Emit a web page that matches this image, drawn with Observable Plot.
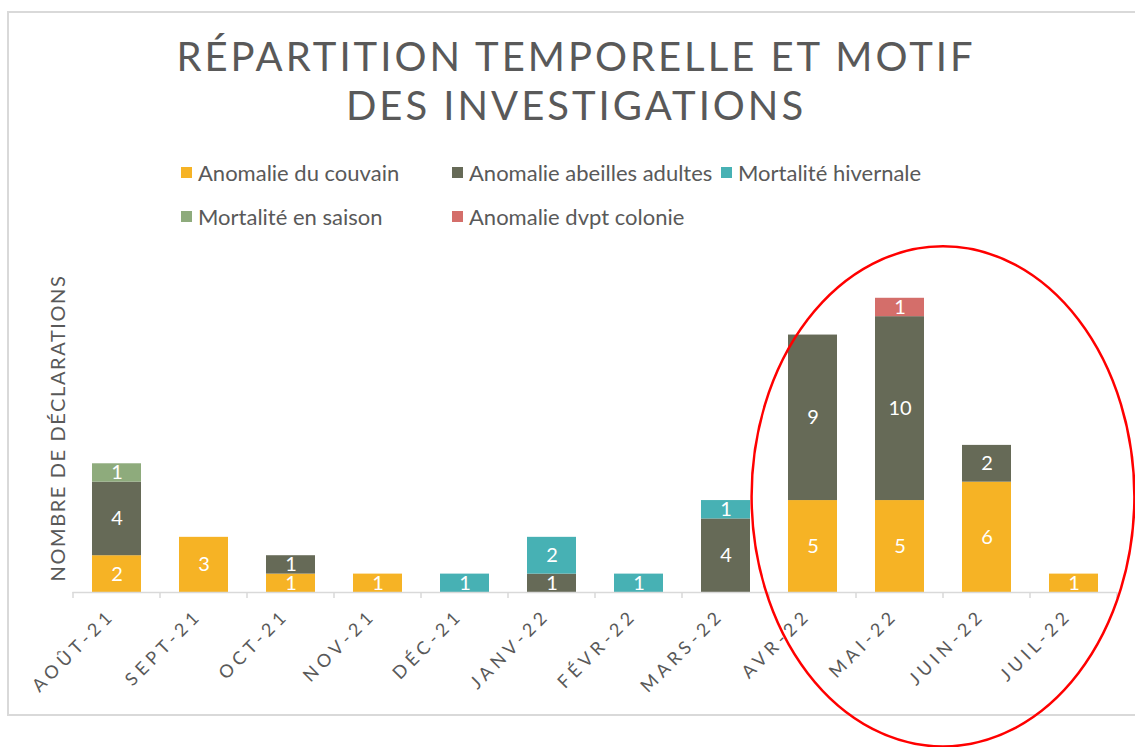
<!DOCTYPE html>
<html>
<head>
<meta charset="utf-8">
<script src="https://cdn.jsdelivr.net/npm/d3@7"></script>
<script src="https://cdn.jsdelivr.net/npm/@observablehq/plot@0.6"></script>
<style>
  body { margin:0; background:#fff; font-family: Lato, "Open Sans", sans-serif; }
  #wrap { position:relative; width:1135px; height:747px; overflow:hidden; background:#fff; }
  #frame { position:absolute; left:7px; top:11px; width:1160px; height:705px; border:2px solid #d9d9d9; box-sizing:border-box; }
  #chart { position:absolute; left:0; top:0; }
  #title { position:absolute; left:0; top:32px; width:1152px; text-align:center; color:#595959;
           font-size:40px; line-height:49px; letter-spacing:3px; white-space:nowrap; }
  .leg { position:absolute; display:flex; align-items:center; color:#595959; font-size:22px; white-space:nowrap; }
  .leg .sw { width:11px; height:11px; margin-right:6px; }
  #ylab { position:absolute; left:57px; top:428px; transform:translate(-50%,-50%) rotate(-90deg);
          color:#595959; font-size:20px; letter-spacing:1.6px; white-space:nowrap; }
</style>
</head>
<body>
<div id="wrap">
  <div id="frame"></div>
  <div id="chart"></div>
  <div id="title">RÉPARTITION TEMPORELLE ET MOTIF<br>DES INVESTIGATIONS</div>
  <div id="legend"></div>
  <div id="ylab">NOMBRE DE DÉCLARATIONS</div>
</div>
<script>
// ---- data ----
const months = ["AOÛT-21","SEPT-21","OCT-21","NOV-21","DÉC-21","JANV-22","FÉVR-22","MARS-22","AVR-22","MAI-22","JUIN-22","JUIL-22"];
const series = ["Anomalie du couvain","Anomalie abeilles adultes","Mortalité hivernale","Mortalité en saison","Anomalie dvpt colonie"];
const colors = ["#F6B325","#666A57","#47B1B4","#8EAB7C","#D46E6A"];
const couvain   = [2,3,1,1,0,0,0,0,5,5,6,1];
const adultes   = [4,0,1,0,0,1,0,4,9,10,2,0];
const hivernale = [0,0,0,0,1,2,1,1,0,0,0,0];
const saison    = [1,0,0,0,0,0,0,0,0,0,0,0];
const dvpt      = [0,0,0,0,0,0,0,0,0,1,0,0];
const seriesValues = [couvain, adultes, hivernale, saison, dvpt];
// annotation (red ellipse) around the last months
const highlight = { from: "MAI-22", to: "JUIN-22", yCenter: 5.2, xRadiusSteps: 2.2, yRadius: 13.6 };

const data = [];
series.forEach((s, i) => months.forEach((m, j) => {
  const v = seriesValues[i][j];
  if (v > 0) data.push({ month: m, series: s, value: v });
}));

// ---- legend (HTML) ----
const legPos = [[181,172],[452,172],[721,172],[181,216],[452,216]];
const legend = document.getElementById("legend");
series.forEach((s, i) => {
  const d = document.createElement("div");
  d.className = "leg";
  d.style.left = legPos[i][0] + "px";
  d.style.top = (legPos[i][1] - 13) + "px";
  d.style.height = "26px";
  d.innerHTML = `<span class="sw" style="background:${colors[i]}"></span><span>${s}</span>`;
  legend.appendChild(d);
});

function bandInfo(x) {
  const step = x(months[1]) - x(months[0]);
  let bw = typeof x.bandwidth === "function" ? x.bandwidth() : x.bandwidth;
  if (!(bw > 0)) bw = step * 0.56;
  return { step, bw };
}

const boundaryTicks = (index, scales) => {
  const x = scales.x, y0 = scales.y(0);
  const { step, bw } = bandInfo(x);
  const bounds = months.map(m => x(m) + bw / 2 - step / 2);
  bounds.push(x(months[months.length - 1]) + bw / 2 + step / 2);
  const g = d3.create("svg:g");
  g.selectAll("line").data(bounds).join("line")
    .attr("x1", d => d).attr("x2", d => d)
    .attr("y1", y0).attr("y2", y0 + 6)
    .attr("stroke", "#d9d9d9").attr("stroke-width", 1.5);
  return g.node();
};

const ellipseMark = (index, scales) => {
  const x = scales.x, y = scales.y;
  const { step, bw } = bandInfo(x);
  const cx = (x(highlight.from) + x(highlight.to)) / 2 + bw / 2;
  const cy = y(highlight.yCenter);
  const ry = Math.abs(y(0) - y(highlight.yRadius));
  const rx = step * highlight.xRadiusSteps;
  const g = d3.create("svg:g");
  g.append("ellipse").attr("cx", cx).attr("cy", cy).attr("rx", rx).attr("ry", ry)
    .attr("fill", "none").attr("stroke", "#FF0000").attr("stroke-width", 2.5);
  return g.node();
};

const plot = Plot.plot({
  width: 1135,
  height: 747,
  marginLeft: 72.5,
  marginRight: 18.5,
  marginTop: 261,
  marginBottom: 155,
  x: { domain: months, paddingInner: 0.44, paddingOuter: 0.22, axis: null },
  y: { domain: [0, 18], axis: null },
  color: { domain: series, range: colors },
  style: { background: "transparent", fontFamily: "Lato, 'Open Sans', sans-serif", overflow: "visible" },
  marks: [
    Plot.barY(data, { x: "month", y: "value", fill: "series" }),
    Plot.text(data, Plot.stackY({ x: "month", y: "value", text: d => String(d.value), fill: "white", fontSize: 20 })),
    Plot.ruleY([0], { stroke: "#d9d9d9", strokeWidth: 1.5 }),
    boundaryTicks,
    Plot.text(months, { x: d => d, text: d => d, frameAnchor: "bottom", dy: 24, dx: -1, rotate: -45,
                        textAnchor: "end", fill: "#595959", fontSize: 18 }),
    ellipseMark
  ]
});
d3.select(plot).selectAll("text")
  .filter(function () { return months.includes(this.textContent); })
  .style("letter-spacing", "4.5px");
document.getElementById("chart").appendChild(plot);
</script>
</body>
</html>
